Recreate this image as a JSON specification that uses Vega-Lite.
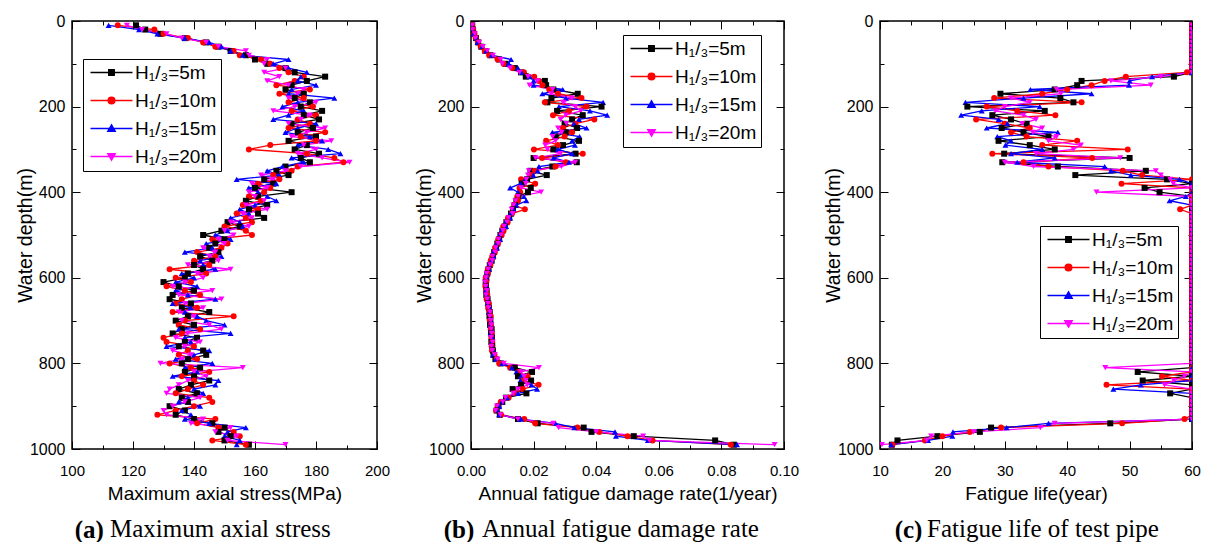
{
"background": "white",
"padding": {"left": 14, "top": 12, "right": 5, "bottom": 0},
"config": {
 "view": {"stroke": "black", "strokeWidth": 1.5},
 "axis": {"domain": false, "grid": false, "tickColor": "black", "tickWidth": 1, "labelFont": "Liberation Sans", "labelFontSize": 15, "labelColor": "black", "titleFont": "Liberation Sans", "titleFontSize": 19, "titleFontWeight": "normal", "titleColor": "black", "labelFlush": false, "labelOverlap": false, "labelBound": false},
 "legend": {"strokeColor": "black", "strokeWidth": 1, "padding": 4, "fillColor": "white", "labelFont": "Liberation Sans", "labelFontSize": 19, "labelColor": "black", "rowPadding": 8, "symbolOffset": 15, "labelOffset": 14, "symbolStrokeWidth": 1.5, "symbolSize": 144, "symbolOpacity": 1}
},
"data": {"values": [
{"d":10,"s":"5m","a":121,"b":0.0004,"c":60},{"d":10,"s":"10m","a":115,"b":0.0003,"c":60},{"d":10,"s":"15m","a":112,"b":0.0003,"c":60},{"d":10,"s":"20m","a":118,"b":0.0004,"c":60},
{"d":20,"s":"5m","a":124,"b":0.0006,"c":60},{"d":20,"s":"10m","a":127,"b":0.0007,"c":60},{"d":20,"s":"15m","a":122,"b":0.0006,"c":60},{"d":20,"s":"20m","a":123,"b":0.0005,"c":60},
{"d":30,"s":"5m","a":129,"b":0.0010,"c":60},{"d":30,"s":"10m","a":130,"b":0.0011,"c":60},{"d":30,"s":"15m","a":128,"b":0.0009,"c":60},{"d":30,"s":"20m","a":131,"b":0.0012,"c":60},
{"d":40,"s":"5m","a":137,"b":0.0016,"c":60},{"d":40,"s":"10m","a":138,"b":0.0015,"c":60},{"d":40,"s":"15m","a":137,"b":0.0017,"c":60},{"d":40,"s":"20m","a":136,"b":0.0014,"c":60},
{"d":50,"s":"5m","a":144,"b":0.0023,"c":60},{"d":50,"s":"10m","a":143,"b":0.0022,"c":60},{"d":50,"s":"15m","a":145,"b":0.0021,"c":60},{"d":50,"s":"20m","a":144,"b":0.0026,"c":60},
{"d":60,"s":"5m","a":148,"b":0.0033,"c":60},{"d":60,"s":"10m","a":147,"b":0.0031,"c":60},{"d":60,"s":"15m","a":149,"b":0.0035,"c":60},{"d":60,"s":"20m","a":148,"b":0.0038,"c":60},
{"d":70,"s":"5m","a":152,"b":0.0046,"c":60},{"d":70,"s":"10m","a":153,"b":0.0044,"c":60},{"d":70,"s":"15m","a":152,"b":0.0049,"c":60},{"d":70,"s":"20m","a":157,"b":0.0052,"c":60},
{"d":80,"s":"5m","a":157,"b":0.0062,"c":60},{"d":80,"s":"10m","a":155,"b":0.0058,"c":60},{"d":80,"s":"15m","a":156,"b":0.0066,"c":60},{"d":80,"s":"20m","a":158,"b":0.0070,"c":60},
{"d":90,"s":"5m","a":160,"b":0.0090,"c":60},{"d":90,"s":"10m","a":162,"b":0.0085,"c":60},{"d":90,"s":"15m","a":171,"b":0.0128,"c":60},{"d":90,"s":"20m","a":164,"b":0.0095,"c":60},
{"d":100,"s":"5m","a":164,"b":0.0110,"c":60},{"d":100,"s":"10m","a":165,"b":0.0104,"c":60},{"d":100,"s":"15m","a":166,"b":0.0120,"c":60},{"d":100,"s":"20m","a":163,"b":0.0100,"c":60},
{"d":110,"s":"5m","a":170,"b":0.0140,"c":60},{"d":110,"s":"10m","a":168,"b":0.0132,"c":60},{"d":110,"s":"15m","a":171,"b":0.0150,"c":60},{"d":110,"s":"20m","a":170,"b":0.0125,"c":60},
{"d":120,"s":"5m","a":173,"b":0.0160,"c":60},{"d":120,"s":"10m","a":171,"b":0.0169,"c":59.2},{"d":120,"s":"15m","a":177,"b":0.0162,"c":60},{"d":120,"s":"20m","a":163,"b":0.0155,"c":60},
{"d":130,"s":"5m","a":183,"b":0.0175,"c":57.1},{"d":130,"s":"10m","a":176,"b":0.0202,"c":49.4},{"d":130,"s":"15m","a":175,"b":0.0187,"c":53.6},{"d":130,"s":"20m","a":168,"b":0.0182,"c":55},
{"d":140,"s":"5m","a":177,"b":0.0236,"c":42.3},{"d":140,"s":"10m","a":173,"b":0.0217,"c":46},{"d":140,"s":"15m","a":174,"b":0.0200,"c":50},{"d":140,"s":"20m","a":164,"b":0.0213,"c":47},
{"d":150,"s":"5m","a":172,"b":0.0240,"c":41.6},{"d":150,"s":"10m","a":167,"b":0.0228,"c":43.9},{"d":150,"s":"15m","a":180,"b":0.0200,"c":49.9},{"d":150,"s":"20m","a":171,"b":0.0187,"c":53.4},
{"d":160,"s":"5m","a":170,"b":0.0263,"c":38},{"d":160,"s":"10m","a":178,"b":0.0250,"c":40},{"d":160,"s":"15m","a":172,"b":0.0293,"c":34.1},{"d":160,"s":"20m","a":176,"b":0.0261,"c":38.3},
{"d":170,"s":"5m","a":176,"b":0.0341,"c":29.3},{"d":170,"s":"10m","a":168,"b":0.0278,"c":36},{"d":170,"s":"15m","a":171,"b":0.0228,"c":43.9},{"d":170,"s":"20m","a":174,"b":0.0256,"c":39},
{"d":180,"s":"5m","a":173,"b":0.0257,"c":38.9},{"d":180,"s":"10m","a":176,"b":0.0353,"c":28.3},{"d":180,"s":"15m","a":186,"b":0.0303,"c":33},{"d":180,"s":"20m","a":171,"b":0.0323,"c":31},
{"d":190,"s":"5m","a":178,"b":0.0244,"c":41},{"d":190,"s":"10m","a":171,"b":0.0236,"c":42.3},{"d":190,"s":"15m","a":174,"b":0.0422,"c":23.7},{"d":190,"s":"20m","a":180,"b":0.0294,"c":34},
{"d":200,"s":"5m","a":175,"b":0.0417,"c":24},{"d":200,"s":"10m","a":179,"b":0.0369,"c":27.1},{"d":200,"s":"15m","a":169,"b":0.0281,"c":35.6},{"d":200,"s":"20m","a":173,"b":0.0333,"c":30},
{"d":210,"s":"5m","a":182,"b":0.0275,"c":36.4},{"d":210,"s":"10m","a":172,"b":0.0313,"c":32},{"d":210,"s":"15m","a":176,"b":0.0380,"c":26.3},{"d":210,"s":"20m","a":166,"b":0.0351,"c":28.5},
{"d":220,"s":"5m","a":176,"b":0.0357,"c":28},{"d":220,"s":"10m","a":180,"b":0.0262,"c":38.1},{"d":220,"s":"15m","a":171,"b":0.0435,"c":23},{"d":220,"s":"20m","a":178,"b":0.0303,"c":33},
{"d":230,"s":"5m","a":181,"b":0.0323,"c":31},{"d":230,"s":"10m","a":174,"b":0.0394,"c":25.4},{"d":230,"s":"15m","a":166,"b":0.0345,"c":29},{"d":230,"s":"20m","a":175,"b":0.0286,"c":35},
{"d":240,"s":"5m","a":172,"b":0.0299,"c":33.5},{"d":240,"s":"10m","a":178,"b":0.0333,"c":30},{"d":240,"s":"15m","a":180,"b":0.0329,"c":30.4},{"d":240,"s":"20m","a":171,"b":0.0305,"c":32.8},
{"d":250,"s":"5m","a":179,"b":0.0339,"c":29.5},{"d":250,"s":"10m","a":171,"b":0.0294,"c":34},{"d":250,"s":"15m","a":174,"b":0.0369,"c":27.1},{"d":250,"s":"20m","a":183,"b":0.0278,"c":36},
{"d":260,"s":"5m","a":174,"b":0.0303,"c":33},{"d":260,"s":"10m","a":183,"b":0.0323,"c":31},{"d":260,"s":"15m","a":170,"b":0.0260,"c":38.5},{"d":260,"s":"20m","a":177,"b":0.0290,"c":34.5},
{"d":270,"s":"5m","a":180,"b":0.0270,"c":37},{"d":270,"s":"10m","a":175,"b":0.0299,"c":33.5},{"d":270,"s":"15m","a":178,"b":0.0347,"c":28.8},{"d":270,"s":"20m","a":172,"b":0.0261,"c":38.3},
{"d":280,"s":"5m","a":171,"b":0.0345,"c":29},{"d":280,"s":"10m","a":180,"b":0.0240,"c":41.6},{"d":280,"s":"15m","a":182,"b":0.0323,"c":31},{"d":280,"s":"20m","a":185,"b":0.0270,"c":37},
{"d":290,"s":"5m","a":177,"b":0.0294,"c":34},{"d":290,"s":"10m","a":165,"b":0.0278,"c":36},{"d":290,"s":"15m","a":174,"b":0.0332,"c":30.1},{"d":290,"s":"20m","a":176,"b":0.0237,"c":42.2},
{"d":300,"s":"5m","a":173,"b":0.0263,"c":38},{"d":300,"s":"10m","a":158,"b":0.0201,"c":49.7},{"d":300,"s":"15m","a":184,"b":0.0278,"c":36},{"d":300,"s":"20m","a":180,"b":0.0244,"c":41},
{"d":310,"s":"5m","a":181,"b":0.0334,"c":29.9},{"d":310,"s":"10m","a":177,"b":0.0357,"c":28},{"d":310,"s":"15m","a":188,"b":0.0323,"c":31},{"d":310,"s":"20m","a":174,"b":0.0286,"c":35},
{"d":320,"s":"5m","a":175,"b":0.0200,"c":50},{"d":320,"s":"10m","a":186,"b":0.0227,"c":44},{"d":320,"s":"15m","a":172,"b":0.0263,"c":38},{"d":320,"s":"20m","a":182,"b":0.0206,"c":48.5},
{"d":330,"s":"5m","a":178,"b":0.0338,"c":29.6},{"d":330,"s":"10m","a":189,"b":0.0303,"c":33},{"d":330,"s":"15m","a":176,"b":0.0313,"c":32},{"d":330,"s":"20m","a":191,"b":0.0333,"c":30},
{"d":340,"s":"5m","a":170,"b":0.0260,"c":38.5},{"d":340,"s":"10m","a":174,"b":0.0270,"c":37},{"d":340,"s":"15m","a":169,"b":0.0217,"c":46},{"d":340,"s":"20m","a":175,"b":0.0289,"c":34.6},
{"d":350,"s":"5m","a":167,"b":0.0190,"c":52.6},{"d":350,"s":"10m","a":172,"b":0.0204,"c":48.9},{"d":350,"s":"15m","a":164,"b":0.0213,"c":47},{"d":350,"s":"20m","a":170,"b":0.0185,"c":54.2},
{"d":360,"s":"5m","a":171,"b":0.0242,"c":41.3},{"d":360,"s":"10m","a":166,"b":0.0192,"c":52},{"d":360,"s":"15m","a":168,"b":0.0199,"c":50.2},{"d":360,"s":"20m","a":162,"b":0.0182,"c":55},
{"d":370,"s":"5m","a":163,"b":0.0179,"c":56},{"d":370,"s":"10m","a":168,"b":0.0160,"c":60},{"d":370,"s":"15m","a":154,"b":0.0172,"c":58},{"d":370,"s":"20m","a":166,"b":0.0177,"c":56.5},
{"d":380,"s":"5m","a":166,"b":0.0162,"c":60},{"d":380,"s":"10m","a":161,"b":0.0205,"c":48.7},{"d":380,"s":"15m","a":167,"b":0.0158,"c":60},{"d":380,"s":"20m","a":159,"b":0.0175,"c":57},
{"d":390,"s":"5m","a":160,"b":0.0191,"c":52.4},{"d":390,"s":"10m","a":165,"b":0.0155,"c":60},{"d":390,"s":"15m","a":158,"b":0.0125,"c":60},{"d":390,"s":"20m","a":164,"b":0.0160,"c":60},
{"d":400,"s":"5m","a":172,"b":0.0182,"c":54.8},{"d":400,"s":"10m","a":163,"b":0.0157,"c":60},{"d":400,"s":"15m","a":161,"b":0.0150,"c":60},{"d":400,"s":"20m","a":158,"b":0.0224,"c":44.7},
{"d":410,"s":"5m","a":161,"b":0.0152,"c":60},{"d":410,"s":"10m","a":158,"b":0.0148,"c":60},{"d":410,"s":"15m","a":164,"b":0.0169,"c":59},{"d":410,"s":"20m","a":160,"b":0.0150,"c":60},
{"d":420,"s":"5m","a":157,"b":0.0145,"c":60},{"d":420,"s":"10m","a":162,"b":0.0150,"c":60},{"d":420,"s":"15m","a":167,"b":0.0177,"c":56.4},{"d":420,"s":"20m","a":163,"b":0.0142,"c":60},
{"d":430,"s":"5m","a":164,"b":0.0140,"c":60},{"d":430,"s":"10m","a":156,"b":0.0138,"c":60},{"d":430,"s":"15m","a":160,"b":0.0145,"c":60},{"d":430,"s":"20m","a":157,"b":0.0136,"c":60},
{"d":440,"s":"5m","a":158,"b":0.0134,"c":60},{"d":440,"s":"10m","a":161,"b":0.0172,"c":58.1},{"d":440,"s":"15m","a":155,"b":0.0136,"c":60},{"d":440,"s":"20m","a":164,"b":0.0130,"c":60},
{"d":450,"s":"5m","a":161,"b":0.0128,"c":60},{"d":450,"s":"10m","a":154,"b":0.0131,"c":60},{"d":450,"s":"15m","a":158,"b":0.0126,"c":60},{"d":450,"s":"20m","a":156,"b":0.0133,"c":60},
{"d":460,"s":"5m","a":163,"b":0.0122,"c":60},{"d":460,"s":"10m","a":157,"b":0.0118,"c":60},{"d":460,"s":"15m","a":152,"b":0.0125,"c":60},{"d":460,"s":"20m","a":159,"b":0.0120,"c":60},
{"d":470,"s":"5m","a":151,"b":0.0113,"c":60},{"d":470,"s":"10m","a":159,"b":0.0117,"c":60},{"d":470,"s":"15m","a":155,"b":0.0110,"c":60},{"d":470,"s":"20m","a":152,"b":0.0115,"c":60},
{"d":480,"s":"5m","a":155,"b":0.0108,"c":60},{"d":480,"s":"10m","a":150,"b":0.0103,"c":60},{"d":480,"s":"15m","a":156,"b":0.0112,"c":60},{"d":480,"s":"20m","a":158,"b":0.0106,"c":60},
{"d":490,"s":"5m","a":149,"b":0.0100,"c":60},{"d":490,"s":"10m","a":157,"b":0.0104,"c":60},{"d":490,"s":"15m","a":151,"b":0.0097,"c":60},{"d":490,"s":"20m","a":150,"b":0.0102,"c":60},
{"d":500,"s":"5m","a":143,"b":0.0094,"c":60},{"d":500,"s":"10m","a":159,"b":0.0098,"c":60},{"d":500,"s":"15m","a":147,"b":0.0092,"c":60},{"d":500,"s":"20m","a":153,"b":0.0096,"c":60},
{"d":510,"s":"5m","a":150,"b":0.0090,"c":60},{"d":510,"s":"10m","a":146,"b":0.0087,"c":60},{"d":510,"s":"15m","a":152,"b":0.0093,"c":60},{"d":510,"s":"20m","a":148,"b":0.0088,"c":60},
{"d":520,"s":"5m","a":147,"b":0.0084,"c":60},{"d":520,"s":"10m","a":151,"b":0.0086,"c":60},{"d":520,"s":"15m","a":144,"b":0.0082,"c":60},{"d":520,"s":"20m","a":150,"b":0.0087,"c":60},
{"d":530,"s":"5m","a":145,"b":0.0080,"c":60},{"d":530,"s":"10m","a":149,"b":0.0077,"c":60},{"d":530,"s":"15m","a":146,"b":0.0083,"c":60},{"d":530,"s":"20m","a":143,"b":0.0079,"c":60},
{"d":540,"s":"5m","a":148,"b":0.0074,"c":60},{"d":540,"s":"10m","a":141,"b":0.0076,"c":60},{"d":540,"s":"15m","a":137,"b":0.0071,"c":60},{"d":540,"s":"20m","a":147,"b":0.0077,"c":60},
{"d":550,"s":"5m","a":142,"b":0.0070,"c":60},{"d":550,"s":"10m","a":147,"b":0.0068,"c":60},{"d":550,"s":"15m","a":149,"b":0.0072,"c":60},{"d":550,"s":"20m","a":145,"b":0.0069,"c":60},
{"d":560,"s":"5m","a":146,"b":0.0066,"c":60},{"d":560,"s":"10m","a":140,"b":0.0063,"c":60},{"d":560,"s":"15m","a":142,"b":0.0065,"c":60},{"d":560,"s":"20m","a":148,"b":0.0068,"c":60},
{"d":570,"s":"5m","a":140,"b":0.0060,"c":60},{"d":570,"s":"10m","a":145,"b":0.0062,"c":60},{"d":570,"s":"15m","a":143,"b":0.0058,"c":60},{"d":570,"s":"20m","a":138,"b":0.0061,"c":60},
{"d":580,"s":"5m","a":143,"b":0.0056,"c":60},{"d":580,"s":"10m","a":132,"b":0.0054,"c":60},{"d":580,"s":"15m","a":147,"b":0.0058,"c":60},{"d":580,"s":"20m","a":152,"b":0.0055,"c":60},
{"d":590,"s":"5m","a":138,"b":0.0052,"c":60},{"d":590,"s":"10m","a":144,"b":0.0054,"c":60},{"d":590,"s":"15m","a":136,"b":0.0051,"c":60},{"d":590,"s":"20m","a":141,"b":0.0050,"c":60},
{"d":600,"s":"5m","a":137,"b":0.0049,"c":60},{"d":600,"s":"10m","a":134,"b":0.0047,"c":60},{"d":600,"s":"15m","a":140,"b":0.0050,"c":60},{"d":600,"s":"20m","a":143,"b":0.0048,"c":60},
{"d":610,"s":"5m","a":130,"b":0.0047,"c":60},{"d":610,"s":"10m","a":139,"b":0.0049,"c":60},{"d":610,"s":"15m","a":134,"b":0.0046,"c":60},{"d":610,"s":"20m","a":137,"b":0.0045,"c":60},
{"d":620,"s":"5m","a":135,"b":0.0048,"c":60},{"d":620,"s":"10m","a":131,"b":0.0046,"c":60},{"d":620,"s":"15m","a":141,"b":0.0049,"c":60},{"d":620,"s":"20m","a":133,"b":0.0047,"c":60},
{"d":630,"s":"5m","a":140,"b":0.0050,"c":60},{"d":630,"s":"10m","a":137,"b":0.0048,"c":60},{"d":630,"s":"15m","a":134,"b":0.0047,"c":60},{"d":630,"s":"20m","a":146,"b":0.0051,"c":60},
{"d":640,"s":"5m","a":133,"b":0.0049,"c":60},{"d":640,"s":"10m","a":142,"b":0.0052,"c":60},{"d":640,"s":"15m","a":138,"b":0.0050,"c":60},{"d":640,"s":"20m","a":135,"b":0.0048,"c":60},
{"d":650,"s":"5m","a":132,"b":0.0053,"c":60},{"d":650,"s":"10m","a":136,"b":0.0050,"c":60},{"d":650,"s":"15m","a":147,"b":0.0054,"c":60},{"d":650,"s":"20m","a":149,"b":0.0052,"c":60},
{"d":660,"s":"5m","a":139,"b":0.0055,"c":60},{"d":660,"s":"10m","a":134,"b":0.0057,"c":60},{"d":660,"s":"15m","a":133,"b":0.0053,"c":60},{"d":660,"s":"20m","a":137,"b":0.0054,"c":60},
{"d":670,"s":"5m","a":136,"b":0.0057,"c":60},{"d":670,"s":"10m","a":141,"b":0.0055,"c":60},{"d":670,"s":"15m","a":139,"b":0.0059,"c":60},{"d":670,"s":"20m","a":143,"b":0.0056,"c":60},
{"d":680,"s":"5m","a":145,"b":0.0060,"c":60},{"d":680,"s":"10m","a":133,"b":0.0058,"c":60},{"d":680,"s":"15m","a":137,"b":0.0057,"c":60},{"d":680,"s":"20m","a":135,"b":0.0061,"c":60},
{"d":690,"s":"5m","a":138,"b":0.0059,"c":60},{"d":690,"s":"10m","a":153,"b":0.0063,"c":60},{"d":690,"s":"15m","a":141,"b":0.0061,"c":60},{"d":690,"s":"20m","a":140,"b":0.0060,"c":60},
{"d":700,"s":"5m","a":134,"b":0.0062,"c":60},{"d":700,"s":"10m","a":137,"b":0.0060,"c":60},{"d":700,"s":"15m","a":144,"b":0.0064,"c":60},{"d":700,"s":"20m","a":136,"b":0.0063,"c":60},
{"d":710,"s":"5m","a":140,"b":0.0061,"c":60},{"d":710,"s":"10m","a":135,"b":0.0064,"c":60},{"d":710,"s":"15m","a":150,"b":0.0062,"c":60},{"d":710,"s":"20m","a":145,"b":0.0065,"c":60},
{"d":720,"s":"5m","a":136,"b":0.0066,"c":60},{"d":720,"s":"10m","a":142,"b":0.0063,"c":60},{"d":720,"s":"15m","a":135,"b":0.0065,"c":60},{"d":720,"s":"20m","a":149,"b":0.0064,"c":60},
{"d":730,"s":"5m","a":133,"b":0.0064,"c":60},{"d":730,"s":"10m","a":136,"b":0.0067,"c":60},{"d":730,"s":"15m","a":152,"b":0.0063,"c":60},{"d":730,"s":"20m","a":138,"b":0.0066,"c":60},
{"d":740,"s":"5m","a":141,"b":0.0067,"c":60},{"d":740,"s":"10m","a":130,"b":0.0065,"c":60},{"d":740,"s":"15m","a":137,"b":0.0068,"c":60},{"d":740,"s":"20m","a":134,"b":0.0064,"c":60},
{"d":750,"s":"5m","a":137,"b":0.0065,"c":60},{"d":750,"s":"10m","a":131,"b":0.0068,"c":60},{"d":750,"s":"15m","a":139,"b":0.0066,"c":60},{"d":750,"s":"20m","a":142,"b":0.0069,"c":60},
{"d":760,"s":"5m","a":135,"b":0.0068,"c":60},{"d":760,"s":"10m","a":140,"b":0.0066,"c":60},{"d":760,"s":"15m","a":131,"b":0.0067,"c":60},{"d":760,"s":"20m","a":137,"b":0.0065,"c":60},
{"d":770,"s":"5m","a":143,"b":0.0070,"c":60},{"d":770,"s":"10m","a":138,"b":0.0067,"c":60},{"d":770,"s":"15m","a":145,"b":0.0071,"c":60},{"d":770,"s":"20m","a":133,"b":0.0068,"c":60},
{"d":780,"s":"5m","a":144,"b":0.0072,"c":60},{"d":780,"s":"10m","a":135,"b":0.0075,"c":60},{"d":780,"s":"15m","a":140,"b":0.0070,"c":60},{"d":780,"s":"20m","a":139,"b":0.0076,"c":60},
{"d":790,"s":"5m","a":138,"b":0.0078,"c":60},{"d":790,"s":"10m","a":141,"b":0.0082,"c":60},{"d":790,"s":"15m","a":134,"b":0.0080,"c":60},{"d":790,"s":"20m","a":136,"b":0.0085,"c":60},
{"d":800,"s":"5m","a":136,"b":0.0095,"c":60},{"d":800,"s":"10m","a":132,"b":0.0090,"c":60},{"d":800,"s":"15m","a":146,"b":0.0100,"c":60},{"d":800,"s":"20m","a":129,"b":0.0105,"c":60},
{"d":810,"s":"5m","a":142,"b":0.0140,"c":60},{"d":810,"s":"10m","a":139,"b":0.0125,"c":60},{"d":810,"s":"15m","a":137,"b":0.0130,"c":60},{"d":810,"s":"20m","a":156,"b":0.0217,"c":46.1},
{"d":820,"s":"5m","a":137,"b":0.0195,"c":51.3},{"d":820,"s":"10m","a":145,"b":0.0150,"c":60},{"d":820,"s":"15m","a":141,"b":0.0145,"c":60},{"d":820,"s":"20m","a":140,"b":0.0160,"c":60},
{"d":830,"s":"5m","a":140,"b":0.0150,"c":60},{"d":830,"s":"10m","a":136,"b":0.0181,"c":55.2},{"d":830,"s":"15m","a":133,"b":0.0160,"c":60},{"d":830,"s":"20m","a":144,"b":0.0170,"c":58.8},
{"d":840,"s":"5m","a":145,"b":0.0192,"c":52.1},{"d":840,"s":"10m","a":140,"b":0.0165,"c":60},{"d":840,"s":"15m","a":148,"b":0.0158,"c":60},{"d":840,"s":"20m","a":138,"b":0.0175,"c":57.1},
{"d":850,"s":"5m","a":139,"b":0.0160,"c":60},{"d":850,"s":"10m","a":143,"b":0.0216,"c":46.3},{"d":850,"s":"15m","a":147,"b":0.0193,"c":51.8},{"d":850,"s":"20m","a":135,"b":0.0180,"c":55.6},
{"d":860,"s":"5m","a":135,"b":0.0133,"c":60},{"d":860,"s":"10m","a":138,"b":0.0165,"c":60},{"d":860,"s":"15m","a":140,"b":0.0211,"c":47.4},{"d":860,"s":"20m","a":132,"b":0.0150,"c":60},
{"d":870,"s":"5m","a":141,"b":0.0177,"c":56.5},{"d":870,"s":"10m","a":134,"b":0.0140,"c":60},{"d":870,"s":"15m","a":143,"b":0.0150,"c":60},{"d":870,"s":"20m","a":131,"b":0.0135,"c":60},
{"d":880,"s":"5m","a":136,"b":0.0112,"c":60},{"d":880,"s":"10m","a":145,"b":0.0120,"c":60},{"d":880,"s":"15m","a":138,"b":0.0115,"c":60},{"d":880,"s":"20m","a":142,"b":0.0110,"c":60},
{"d":890,"s":"5m","a":138,"b":0.0100,"c":60},{"d":890,"s":"10m","a":146,"b":0.0095,"c":60},{"d":890,"s":"15m","a":135,"b":0.0098,"c":60},{"d":890,"s":"20m","a":137,"b":0.0102,"c":60},
{"d":900,"s":"5m","a":132,"b":0.0088,"c":60},{"d":900,"s":"10m","a":140,"b":0.0085,"c":60},{"d":900,"s":"15m","a":142,"b":0.0090,"c":60},{"d":900,"s":"20m","a":133,"b":0.0083,"c":60},
{"d":910,"s":"5m","a":137,"b":0.0082,"c":60},{"d":910,"s":"10m","a":134,"b":0.0080,"c":60},{"d":910,"s":"15m","a":136,"b":0.0085,"c":60},{"d":910,"s":"20m","a":130,"b":0.0079,"c":60},
{"d":920,"s":"5m","a":134,"b":0.0092,"c":60},{"d":920,"s":"10m","a":128,"b":0.0096,"c":60},{"d":920,"s":"15m","a":139,"b":0.0090,"c":60},{"d":920,"s":"20m","a":131,"b":0.0094,"c":60},
{"d":930,"s":"5m","a":140,"b":0.0150,"c":60},{"d":930,"s":"10m","a":147,"b":0.0170,"c":58.8},{"d":930,"s":"15m","a":137,"b":0.0160,"c":60},{"d":930,"s":"20m","a":143,"b":0.0150,"c":60},
{"d":940,"s":"5m","a":146,"b":0.0213,"c":46.9},{"d":940,"s":"10m","a":141,"b":0.0205,"c":48.8},{"d":940,"s":"15m","a":145,"b":0.0270,"c":37.0},{"d":940,"s":"20m","a":139,"b":0.0263,"c":38.0},
{"d":950,"s":"5m","a":150,"b":0.0360,"c":27.8},{"d":950,"s":"10m","a":148,"b":0.0340,"c":29.4},{"d":950,"s":"15m","a":157,"b":0.0330,"c":30.3},{"d":950,"s":"20m","a":152,"b":0.0280,"c":35.7},
{"d":960,"s":"5m","a":148,"b":0.0385,"c":26.0},{"d":960,"s":"10m","a":153,"b":0.0410,"c":24.4},{"d":960,"s":"15m","a":151,"b":0.0460,"c":21.7},{"d":960,"s":"20m","a":147,"b":0.0400,"c":25.0},
{"d":970,"s":"5m","a":152,"b":0.0520,"c":19.2},{"d":970,"s":"10m","a":155,"b":0.0500,"c":20.0},{"d":970,"s":"15m","a":150,"b":0.0463,"c":21.6},{"d":970,"s":"20m","a":154,"b":0.0550,"c":18.2},
{"d":980,"s":"5m","a":150,"b":0.0780,"c":12.8},{"d":980,"s":"10m","a":146,"b":0.0580,"c":17.2},{"d":980,"s":"15m","a":155,"b":0.0565,"c":17.7},{"d":980,"s":"20m","a":151,"b":0.0570,"c":17.5},
{"d":990,"s":"5m","a":158,"b":0.0840,"c":11.9},{"d":990,"s":"10m","a":157,"b":0.0830,"c":12.0},{"d":990,"s":"15m","a":154,"b":0.0850,"c":11.8},{"d":990,"s":"20m","a":170,"b":0.0970,"c":10.3}
]},
"spacing": 22,
"hconcat": [
 {"title": {"text": "(a)", "orient": "bottom", "anchor": "start", "frame": "bounds", "dx": 60, "dy": -25, "offset": 0, "font": "Liberation Serif", "fontSize": 25, "fontWeight": "bold", "color": "black"},
  "vconcat": [{
  "width": 305, "height": 428,
  "title": {"text": "Maximum axial stress", "orient": "bottom", "anchor": "start", "frame": "group", "dx": 38, "offset": 14, "font": "Liberation Serif", "fontSize": 25, "fontWeight": "normal", "color": "black"},
  "layer": [
   {"mark": {"type": "line", "strokeWidth": 1.3, "clip": true},
    "encoding": {
     "x": {"field": "a", "type": "quantitative", "scale": {"domain": [100, 200], "nice": false, "zero": false},
      "axis": {"orient": "bottom", "values": [100,110,120,130,140,150,160,170,180,190,200], "format": "d", "labelExpr": "datum.value % 20 === 0 ? datum.label : ''", "tickSize": {"condition": {"test": "datum.value % 20 === 0", "value": -8}, "value": -4}, "labelPadding": 22, "title": "Maximum axial stress(MPa)", "titlePadding": 2}},
     "y": {"field": "d", "type": "quantitative", "scale": {"domain": [0, 1000], "reverse": true, "nice": false, "zero": false},
      "axis": {"orient": "left", "values": [0,100,200,300,400,500,600,700,800,900,1000], "format": "d", "labelExpr": "datum.value % 200 === 0 ? datum.label : ''", "tickSize": {"condition": {"test": "datum.value % 200 === 0", "value": -8}, "value": -4}, "labelPadding": 15, "labelFontSize": 16, "title": "Water depth(m)", "titleFontSize": 19.5, "titlePadding": -6}},
     "color": {"field": "s", "type": "nominal", "scale": {"domain": ["5m","10m","15m","20m"], "range": ["#000000","#ff0000","#0000ff","#ff00ff"]}, "legend": null},
     "order": {"field": "d", "type": "quantitative"}
    }},
   {"mark": {"type": "point", "filled": true, "size": 36, "opacity": 1, "clip": true},
    "encoding": {
     "x": {"field": "a", "type": "quantitative", "axis": {"orient": "top", "values": [100,110,120,130,140,150,160,170,180,190,200], "labels": false, "title": null, "tickSize": {"condition": {"test": "datum.value % 20 === 0", "value": -8}, "value": -4}}},
     "y": {"field": "d", "type": "quantitative", "axis": {"orient": "right", "values": [0,100,200,300,400,500,600,700,800,900,1000], "labels": false, "title": null, "tickSize": {"condition": {"test": "datum.value % 200 === 0", "value": -8}, "value": -4}}},
     "color": {"field": "s", "type": "nominal", "legend": null},
     "shape": {"field": "s", "type": "nominal", "scale": {"domain": ["5m","10m","15m","20m"], "range": ["square","circle","triangle-up","triangle-down"]}, "legend": null}
    }},
   {"transform": [{"filter": "false"}],
    "mark": {"type": "point", "filled": true, "size": 144, "strokeWidth": 1.5, "opacity": 1},
    "encoding": {
     "fill": {"field": "s", "type": "nominal", "scale": {"domain": ["5m","10m","15m","20m"], "range": ["#000000","#ff0000","#0000ff","#ff00ff"]}, "legend": {"orient": "none", "legendX": 11, "legendY": 38, "title": null, "labelExpr": "'H₁/₃=' + datum.label"}},
     "stroke": {"field": "s", "type": "nominal", "scale": {"domain": ["5m","10m","15m","20m"], "range": ["#000000","#ff0000","#0000ff","#ff00ff"]}, "legend": {"orient": "none", "legendX": 11, "legendY": 38, "title": null, "labelExpr": "'H₁/₃=' + datum.label"}},
     "shape": {"field": "s", "type": "nominal", "scale": {"domain": ["5m","10m","15m","20m"], "range": ["M-3.5,0H3.5M-0.45,-0.45H0.45V0.45H-0.45Z", "M-3.5,0H3.5M-0.55,0A0.55,0.55,0,1,0,0.55,0A0.55,0.55,0,1,0,-0.55,0Z", "M-3.5,0H3.5M0,-0.6L0.6,0.45H-0.6Z", "M-3.5,0H3.5M0,0.6L0.6,-0.45H-0.6Z"]}, "legend": {"orient": "none", "legendX": 11, "legendY": 38, "title": null, "labelExpr": "'H₁/₃=' + datum.label"}}
    }}
  ],
  "resolve": {"axis": {"x": "independent", "y": "independent"}, "scale": {"shape": "independent", "fill": "independent", "stroke": "independent"}, "legend": {"shape": "independent", "fill": "independent", "stroke": "independent"}}
 }]},
 {"title": {"text": "(b)", "orient": "bottom", "anchor": "start", "frame": "bounds", "dx": 30, "dy": -25, "offset": 0, "font": "Liberation Serif", "fontSize": 25, "fontWeight": "bold", "color": "black"},
  "vconcat": [{
  "width": 313, "height": 428,
  "title": {"text": "Annual fatigue damage rate", "orient": "bottom", "anchor": "start", "frame": "group", "dx": 11, "offset": 14, "font": "Liberation Serif", "fontSize": 25, "fontWeight": "normal", "color": "black"},
  "layer": [
   {"mark": {"type": "line", "strokeWidth": 1.3, "clip": true},
    "encoding": {
     "x": {"field": "b", "type": "quantitative", "scale": {"domain": [0, 0.1], "nice": false, "zero": false},
      "axis": {"orient": "bottom", "values": [0,0.01,0.02,0.03,0.04,0.05,0.06,0.07,0.08,0.09,0.1], "format": ".2f", "labelExpr": "round(datum.value * 100) % 2 === 0 ? datum.label : ''", "tickSize": {"condition": {"test": "round(datum.value * 100) % 2 === 0", "value": -8}, "value": -4}, "labelPadding": 22, "title": "Annual fatigue damage rate(1/year)", "titlePadding": 2}},
     "y": {"field": "d", "type": "quantitative", "scale": {"domain": [0, 1000], "reverse": true, "nice": false, "zero": false},
      "axis": {"orient": "left", "values": [0,100,200,300,400,500,600,700,800,900,1000], "format": "d", "labelExpr": "datum.value % 200 === 0 ? datum.label : ''", "tickSize": {"condition": {"test": "datum.value % 200 === 0", "value": -8}, "value": -4}, "labelPadding": 15, "labelFontSize": 16, "title": "Water depth(m)", "titleFontSize": 19.5, "titlePadding": -6}},
     "color": {"field": "s", "type": "nominal", "scale": {"domain": ["5m","10m","15m","20m"], "range": ["#000000","#ff0000","#0000ff","#ff00ff"]}, "legend": null},
     "order": {"field": "d", "type": "quantitative"}
    }},
   {"mark": {"type": "point", "filled": true, "size": 36, "opacity": 1, "clip": true},
    "encoding": {
     "x": {"field": "b", "type": "quantitative", "axis": {"orient": "top", "values": [0,0.01,0.02,0.03,0.04,0.05,0.06,0.07,0.08,0.09,0.1], "labels": false, "title": null, "tickSize": {"condition": {"test": "round(datum.value * 100) % 2 === 0", "value": -8}, "value": -4}}},
     "y": {"field": "d", "type": "quantitative", "axis": {"orient": "right", "values": [0,100,200,300,400,500,600,700,800,900,1000], "labels": false, "title": null, "tickSize": {"condition": {"test": "datum.value % 200 === 0", "value": -8}, "value": -4}}},
     "color": {"field": "s", "type": "nominal", "legend": null},
     "shape": {"field": "s", "type": "nominal", "scale": {"domain": ["5m","10m","15m","20m"], "range": ["square","circle","triangle-up","triangle-down"]}, "legend": null}
    }},
   {"transform": [{"filter": "false"}],
    "mark": {"type": "point", "filled": true, "size": 144, "strokeWidth": 1.5, "opacity": 1},
    "encoding": {
     "fill": {"field": "s", "type": "nominal", "scale": {"domain": ["5m","10m","15m","20m"], "range": ["#000000","#ff0000","#0000ff","#ff00ff"]}, "legend": {"orient": "none", "legendX": 152, "legendY": 14, "title": null, "labelExpr": "'H₁/₃=' + datum.label"}},
     "stroke": {"field": "s", "type": "nominal", "scale": {"domain": ["5m","10m","15m","20m"], "range": ["#000000","#ff0000","#0000ff","#ff00ff"]}, "legend": {"orient": "none", "legendX": 152, "legendY": 14, "title": null, "labelExpr": "'H₁/₃=' + datum.label"}},
     "shape": {"field": "s", "type": "nominal", "scale": {"domain": ["5m","10m","15m","20m"], "range": ["M-3.5,0H3.5M-0.45,-0.45H0.45V0.45H-0.45Z", "M-3.5,0H3.5M-0.55,0A0.55,0.55,0,1,0,0.55,0A0.55,0.55,0,1,0,-0.55,0Z", "M-3.5,0H3.5M0,-0.6L0.6,0.45H-0.6Z", "M-3.5,0H3.5M0,0.6L0.6,-0.45H-0.6Z"]}, "legend": {"orient": "none", "legendX": 152, "legendY": 14, "title": null, "labelExpr": "'H₁/₃=' + datum.label"}}
    }}
  ],
  "resolve": {"axis": {"x": "independent", "y": "independent"}, "scale": {"shape": "independent", "fill": "independent", "stroke": "independent"}, "legend": {"shape": "independent", "fill": "independent", "stroke": "independent"}}
 }]},
 {"title": {"text": "(c)", "orient": "bottom", "anchor": "start", "frame": "bounds", "dx": 72, "dy": -25, "offset": 0, "font": "Liberation Serif", "fontSize": 25, "fontWeight": "bold", "color": "black"},
  "vconcat": [{
  "width": 312, "height": 428,
  "title": {"text": "Fatigue life of test pipe", "orient": "bottom", "anchor": "start", "frame": "group", "dx": 47, "offset": 14, "font": "Liberation Serif", "fontSize": 25, "fontWeight": "normal", "color": "black"},
  "layer": [
   {"mark": {"type": "line", "strokeWidth": 1.3, "clip": true},
    "encoding": {
     "x": {"field": "c", "type": "quantitative", "scale": {"domain": [10, 60], "nice": false, "zero": false},
      "axis": {"orient": "bottom", "values": [10,15,20,25,30,35,40,45,50,55,60], "format": "d", "labelExpr": "datum.value % 10 === 0 ? datum.label : ''", "tickSize": {"condition": {"test": "datum.value % 10 === 0", "value": -8}, "value": -4}, "labelPadding": 22, "title": "Fatigue life(year)", "titlePadding": 2}},
     "y": {"field": "d", "type": "quantitative", "scale": {"domain": [0, 1000], "reverse": true, "nice": false, "zero": false},
      "axis": {"orient": "left", "values": [0,100,200,300,400,500,600,700,800,900,1000], "format": "d", "labelExpr": "datum.value % 200 === 0 ? datum.label : ''", "tickSize": {"condition": {"test": "datum.value % 200 === 0", "value": -8}, "value": -4}, "labelPadding": 15, "labelFontSize": 16, "title": "Water depth(m)", "titleFontSize": 19.5, "titlePadding": -6}},
     "color": {"field": "s", "type": "nominal", "scale": {"domain": ["5m","10m","15m","20m"], "range": ["#000000","#ff0000","#0000ff","#ff00ff"]}, "legend": null},
     "order": {"field": "d", "type": "quantitative"}
    }},
   {"mark": {"type": "point", "filled": true, "size": 36, "opacity": 1, "clip": true},
    "encoding": {
     "x": {"field": "c", "type": "quantitative", "axis": {"orient": "top", "values": [10,15,20,25,30,35,40,45,50,55,60], "labels": false, "title": null, "tickSize": {"condition": {"test": "datum.value % 10 === 0", "value": -8}, "value": -4}}},
     "y": {"field": "d", "type": "quantitative", "axis": {"orient": "right", "values": [0,100,200,300,400,500,600,700,800,900,1000], "labels": false, "title": null, "tickSize": {"condition": {"test": "datum.value % 200 === 0", "value": -8}, "value": -4}}},
     "color": {"field": "s", "type": "nominal", "legend": null},
     "shape": {"field": "s", "type": "nominal", "scale": {"domain": ["5m","10m","15m","20m"], "range": ["square","circle","triangle-up","triangle-down"]}, "legend": null}
    }},
   {"transform": [{"filter": "false"}],
    "mark": {"type": "point", "filled": true, "size": 144, "strokeWidth": 1.5, "opacity": 1},
    "encoding": {
     "fill": {"field": "s", "type": "nominal", "scale": {"domain": ["5m","10m","15m","20m"], "range": ["#000000","#ff0000","#0000ff","#ff00ff"]}, "legend": {"orient": "none", "legendX": 160, "legendY": 205, "title": null, "labelExpr": "'H₁/₃=' + datum.label"}},
     "stroke": {"field": "s", "type": "nominal", "scale": {"domain": ["5m","10m","15m","20m"], "range": ["#000000","#ff0000","#0000ff","#ff00ff"]}, "legend": {"orient": "none", "legendX": 160, "legendY": 205, "title": null, "labelExpr": "'H₁/₃=' + datum.label"}},
     "shape": {"field": "s", "type": "nominal", "scale": {"domain": ["5m","10m","15m","20m"], "range": ["M-3.5,0H3.5M-0.45,-0.45H0.45V0.45H-0.45Z", "M-3.5,0H3.5M-0.55,0A0.55,0.55,0,1,0,0.55,0A0.55,0.55,0,1,0,-0.55,0Z", "M-3.5,0H3.5M0,-0.6L0.6,0.45H-0.6Z", "M-3.5,0H3.5M0,0.6L0.6,-0.45H-0.6Z"]}, "legend": {"orient": "none", "legendX": 160, "legendY": 205, "title": null, "labelExpr": "'H₁/₃=' + datum.label"}}
    }}
  ],
  "resolve": {"axis": {"x": "independent", "y": "independent"}, "scale": {"shape": "independent", "fill": "independent", "stroke": "independent"}, "legend": {"shape": "independent", "fill": "independent", "stroke": "independent"}}
 }]}
]
}
